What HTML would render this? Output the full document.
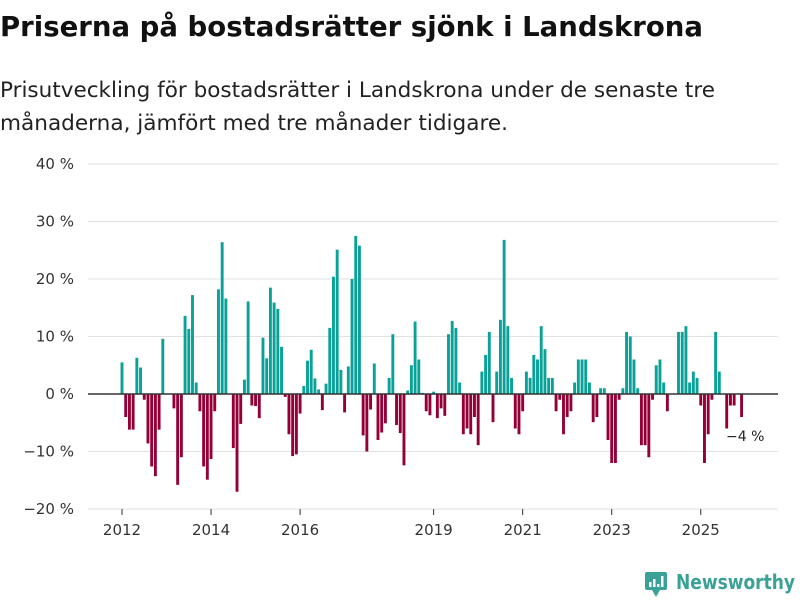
<!DOCTYPE html>
<html><head><meta charset="utf-8"><style>
html,body{margin:0;padding:0;background:#fff;width:800px;height:600px;overflow:hidden}
svg{display:block;font-family:"DejaVu Sans","Liberation Sans",sans-serif}
</style></head><body>
<svg id="chart" width="800" height="600" viewBox="0 0 800 600">
<text x="0" y="36" font-size="28" font-weight="bold" fill="#111" textLength="703" lengthAdjust="spacingAndGlyphs">Priserna på bostadsrätter sjönk i Landskrona</text>
<text x="0" y="97" font-size="21" fill="#222" textLength="715" lengthAdjust="spacingAndGlyphs">Prisutveckling för bostadsrätter i Landskrona under de senaste tre</text>
<text x="0" y="130" font-size="21" fill="#222" textLength="508" lengthAdjust="spacingAndGlyphs">månaderna, jämfört med tre månader tidigare.</text>
<g id="grid"></g><g id="bars"></g><g id="axes"></g>
<text x="726" y="441" font-size="14" fill="#222">−4 %</text>
<g>
<rect x="645" y="572" width="22" height="18" rx="2" fill="#3aa197"/>
<path d="M652 590 L656 597 L660 590 Z" fill="#3aa197"/>
<rect x="649" y="582" width="2.5" height="5" fill="#fff"/><rect x="653" y="579" width="2.5" height="8" fill="#fff"/><rect x="657" y="584" width="2.5" height="3" fill="#fff"/><rect x="661" y="576" width="2.5" height="11" fill="#fff"/>
<text x="676" y="589" font-size="20" font-weight="bold" fill="#3aa197" textLength="119" lengthAdjust="spacingAndGlyphs">Newsworthy</text>
</g>
</svg>
<script>
const values = [5.5,-4,-6.2,-6.2,6.3,4.6,-1,-8.6,-12.6,-14.3,-6.2,9.6,
0,0,-2.5,-15.8,-11,13.6,11.3,17.2,2,-3,-12.6,-14.9,
-11.3,-3,18.2,26.4,16.6,0,-9.4,-17,-5.2,2.5,16.1,-2,
-2.1,-4.2,9.8,6.2,18.5,15.9,14.8,8.2,-0.5,-7,-10.8,-10.5,
-3.4,1.4,5.8,7.7,2.7,0.8,-2.8,1.8,11.5,20.4,25.1,4.2,
-3.2,4.8,20,27.5,25.8,-7.2,-10,-2.7,5.3,-8,-6.7,-5.1,
2.8,10.4,-5.4,-6.8,-12.4,0.6,5,12.6,6,0.2,-3,-3.7,
0.4,-4.2,-2.5,-3.8,10.4,12.7,11.5,2,-7,-6,-7,-4,
-8.9,3.9,6.8,10.8,-4.9,3.9,12.9,26.8,11.8,2.8,-6,-7,
-3,3.9,2.8,6.8,6,11.8,7.8,2.8,2.8,-3,-1,-7,
-4,-3,2,6,6,6,2,-4.9,-4,1,1,-8,
-12,-12,-1,1,10.8,10,6,1,-8.9,-8.9,-11,-1,
5,6,2,-3,0,0,10.8,10.8,11.8,2,3.9,2.8,
-2,-12,-7,-1,10.8,3.9,0,-6,-2,-2,0,-4];
const yTicks = [-20,-10,0,10,20,30,40];
const yTickLabels = ["−20 %","−10 %","0 %","10 %","20 %","30 %","40 %"];
const xYears = [2012,2014,2016,2019,2021,2023,2025];
const startYear = 2012;
const NS="http://www.w3.org/2000/svg";
const y = v => 394 - v*5.75;
const x = i => 122 + i*3.71;
const bw = 2.9;
const grid=document.getElementById('grid'), bars=document.getElementById('bars'), axes=document.getElementById('axes');
yTicks.forEach((t,k)=>{
  if(t!==0){const l=document.createElementNS(NS,'line');
  l.setAttribute('x1',88);l.setAttribute('x2',778);l.setAttribute('y1',y(t));l.setAttribute('y2',y(t));
  l.setAttribute('stroke','#e2e2e2');l.setAttribute('stroke-width','1');
  
  
  grid.appendChild(l);}
  const tx=document.createElementNS(NS,'text');
  tx.setAttribute('x',74);tx.setAttribute('y',y(t)+5);tx.setAttribute('text-anchor','end');
  tx.setAttribute('font-size','15');tx.setAttribute('fill','#333');tx.textContent=yTickLabels[k];
  
  
  axes.appendChild(tx);
});
values.forEach((v,i)=>{
  const r=document.createElementNS(NS,'rect');
  r.setAttribute('x',x(i)-bw/2);r.setAttribute('width',bw);
  r.setAttribute('y',Math.min(y(v),394));r.setAttribute('height',Math.abs(y(v)-394));
  r.setAttribute('fill',v>=0?'#0aa198':'#930037');
  
  
  bars.appendChild(r);
});
const z=document.createElementNS(NS,'line');
z.setAttribute('x1',88);z.setAttribute('x2',778);z.setAttribute('y1',394);z.setAttribute('y2',394);
z.setAttribute('stroke','#333');z.setAttribute('stroke-width','1.5');


axes.appendChild(z);
xYears.forEach(yr=>{
  const i=(yr-startYear)*12, px=x(i);
  const tk=document.createElementNS(NS,'line');
  tk.setAttribute('x1',px);tk.setAttribute('x2',px);tk.setAttribute('y1',509);tk.setAttribute('y2',515);
  tk.setAttribute('stroke','#333');
  
  
  axes.appendChild(tk);
  const tx=document.createElementNS(NS,'text');
  tx.setAttribute('x',px);tx.setAttribute('y',535);tx.setAttribute('text-anchor','middle');
  tx.setAttribute('font-size','15');tx.setAttribute('fill','#333');tx.textContent=yr;
  
  
  axes.appendChild(tx);
});
</script>
</body></html>
